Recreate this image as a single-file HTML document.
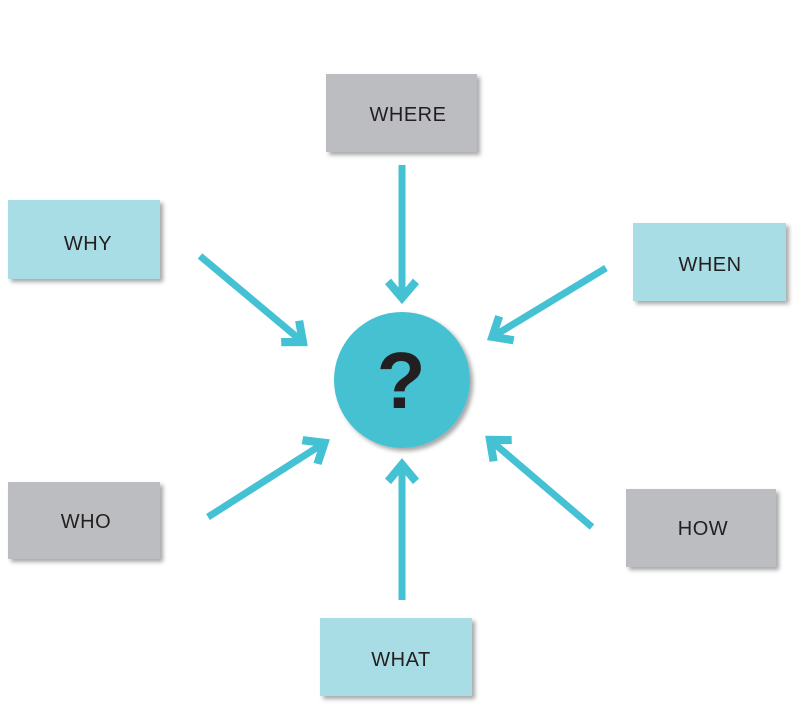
<!DOCTYPE html>
<html><head><meta charset="utf-8"><style>
html,body{margin:0;padding:0;background:#fff;}
svg{display:block;}
text{font-family:"Liberation Sans",sans-serif;font-size:20px;fill:#231f20;letter-spacing:0.5px;}
</style></head><body>
<svg width="800" height="711" viewBox="0 0 800 711" xmlns="http://www.w3.org/2000/svg">
<defs>
<filter id="sh" x="-20%" y="-20%" width="150%" height="150%">
<feDropShadow dx="3" dy="3" stdDeviation="2" flood-color="#000" flood-opacity="0.35"/>
</filter>
<g id="arr">
<line x1="0" y1="0" x2="128" y2="0" stroke="#44c1d2" stroke-width="7"/>
<polyline points="113,-14 129,0 113,14" fill="none" stroke="#44c1d2" stroke-width="8" stroke-linejoin="miter" stroke-miterlimit="10"/>
</g>
</defs>
<rect x="326" y="74" width="151" height="78" fill="#bcbdc0" filter="url(#sh)"/>
<text x="408" y="121" text-anchor="middle">WHERE</text>
<rect x="8" y="200" width="152" height="79" fill="#a8dde5" filter="url(#sh)"/>
<text x="88" y="250" text-anchor="middle">WHY</text>
<rect x="633" y="223" width="153" height="78" fill="#a8dde5" filter="url(#sh)"/>
<text x="710" y="271" text-anchor="middle">WHEN</text>
<rect x="8" y="482" width="152" height="77" fill="#bcbdc0" filter="url(#sh)"/>
<text x="86" y="528" text-anchor="middle">WHO</text>
<rect x="626" y="489" width="150" height="78" fill="#bcbdc0" filter="url(#sh)"/>
<text x="703" y="535" text-anchor="middle">HOW</text>
<rect x="320" y="618" width="152" height="78" fill="#a8dde5" filter="url(#sh)"/>
<text x="401" y="666" text-anchor="middle">WHAT</text>
<circle cx="402" cy="380" r="68" fill="#44c1d2" filter="url(#sh)"/>
<text x="401" y="408" text-anchor="middle" style="font-size:80px;font-weight:bold;fill:#231f20;letter-spacing:0">?</text>
<use href="#arr" transform="translate(402,165) rotate(90) scale(1.03,1)"/>
<use href="#arr" transform="translate(200,256) rotate(39.9) scale(1.04,1)"/>
<use href="#arr" transform="translate(606,268) rotate(148.8) scale(1.03,1)"/>
<use href="#arr" transform="translate(208,517) rotate(-32.5) scale(1.07,1)"/>
<use href="#arr" transform="translate(592,527) rotate(220.5) scale(1.04,1)"/>
<use href="#arr" transform="translate(402,600) rotate(-90) scale(1.05,1)"/>
</svg>
</body></html>
